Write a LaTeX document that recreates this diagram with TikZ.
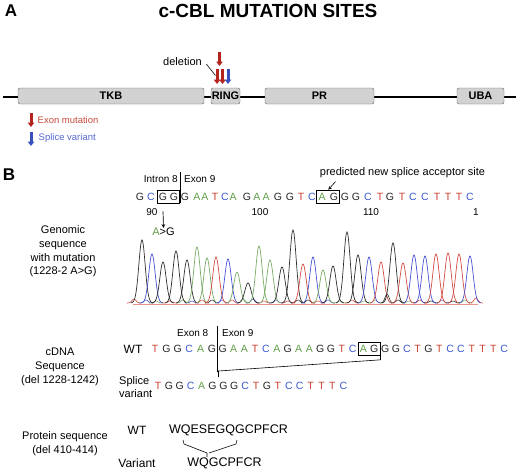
\documentclass[tikz,border=0pt]{standalone}
\usepackage{fontspec}
\setmainfont{Liberation Sans}
\usepackage{xcolor}
\usepackage{tikz}
\usetikzlibrary{arrows.meta, fit, positioning, calc}

\definecolor{colA}{RGB}{98,158,72}
\definecolor{colC}{RGB}{58,88,205}
\definecolor{colG}{RGB}{35,35,35}
\definecolor{colT}{RGB}{205,62,45}
\definecolor{trA}{RGB}{120,170,100}
\definecolor{trC}{RGB}{70,80,210}
\definecolor{trG}{RGB}{45,45,45}
\definecolor{trT}{RGB}{210,75,65}
\definecolor{domfill}{RGB}{210,210,210}
\definecolor{domline}{RGB}{100,100,100}
\definecolor{mutred}{RGB}{180,35,30}
\definecolor{mutblue}{RGB}{55,80,190}
\definecolor{legred}{RGB}{200,75,60}
\definecolor{legblue}{RGB}{85,105,210}

\begin{document}
\begin{tikzpicture}[x=1pt, y=-1pt, >=stealth,
    dom/.style={draw=domline, fill=domfill, rounded corners=2pt, minimum height=16pt,
        inner sep=0pt, font=\bfseries\fontsize{11}{13}\selectfont},
    mutarr/.style={line width=3pt, -{Triangle[width=6.5pt, length=4.5pt]}},
    seqbase/.style={inner sep=0pt, font=\fontsize{10.5}{12}\selectfont},
    seqbox/.style={draw, line width=0.8pt, inner xsep=1.5pt, inner ysep=2.5pt},
    lbl/.style={font=\fontsize{11}{13.7}\selectfont, align=center},
    tiny/.style={inner sep=0pt, font=\fontsize{10}{12}\selectfont},
    panel/.style={font=\bfseries\fontsize{17}{20}\selectfont}]
    \useasboundingbox (0,0) rectangle (520,471);

    % A: domaines de c-CBL
    \node[panel] (pa) at (11,11) {A};
    \node[font=\bfseries\fontsize{19}{22}\selectfont] (title) at (268,11) {c-CBL MUTATION SITES};

    \coordinate (bbl) at (3,97);
    \coordinate (bbr) at (516,97);
    \draw[line width=1.3pt] (bbl) -- (bbr);
    \node[dom, minimum width=186pt] (tkb) at (111,96) {TKB};
    \node[dom, minimum width=29pt] (ring) at (225.5,96) {RING};
    \node[dom, minimum width=109pt] (pr) at (319.5,96) {PR};
    \node[dom, minimum width=47pt] (uba) at (480.5,96) {UBA};

    % les mutations
    \draw[mutarr, mutred] (219.5,52) -- (219.5,66);
    \draw[mutarr, mutred] (217,69) -- (217,84);
    \draw[mutarr, mutred] (222.5,69) -- (222.5,84);
    \draw[mutarr, mutblue] (228,69) -- (228,84);
    \node[lbl] (del) at (182.5,62) {deletion};
    \draw[line width=0.6pt] ([shift={(1,2)}]del.east) -- (215.5,75.5);

    % legende
    \draw[mutarr, mutred] (31,113) -- (31,127);
    \node[anchor=west, inner sep=0pt, text=legred, font=\fontsize{9.5}{11}\selectfont] (lgex) at (37.5,120) {Exon mutation};
    \draw[mutarr, mutblue] (31,132) -- (31,146);
    \node[anchor=west, inner sep=0pt, text=legblue, font=\fontsize{9.5}{11}\selectfont] (lgsp) at (38.5,138) {Splice variant};

    % B: sequence genomique
    \node[panel] (pb) at (9,175) {B};
    \node[tiny, anchor=east] (in8) at (178,179) {Intron 8};
    \node[tiny, anchor=west] (ex9) at (184,179) {Exon 9};
    \draw[line width=0.6pt] (180,172) -- (180,203);
    \foreach \b/\px [count=\i] in {G/140, C/151, G/163, G/174, G/185, A/197, A/205, T/215,
        C/225, A/233, G/247, A/257, A/266, G/278, G/290, T/301, C/312, A/322, G/334,
        G/345, G/356, C/368, T/380, G/390, T/402, C/413, C/425, T/437, T/448, T/459, C/470}
        \node[seqbase, text=col\b] (g\i) at (\px,196.5) {\b};
    \node[seqbox, fit=(g3)(g4)] (gbox1) {};
    \node[seqbox, fit=(g18)(g19)] (gbox2) {};
    \node[lbl] (site) at (402.5,173) {predicted new splice acceptor site};
    \draw[->, line width=0.6pt] ([xshift=-67pt]site.south) -- (gbox2.north);

    \node[tiny] (n90) at (152,212) {90};
    \node[tiny] (n100) at (260,212) {100};
    \node[tiny] (n110) at (371,212) {110};
    \node[tiny] (n1) at (476,212) {1};
    \node[seqbase, font=\fontsize{11}{13}\selectfont] (ag) at (163.5,232) {\textcolor{colA}{A}>G};
    \draw[->, line width=0.7pt] ([yshift=-11pt]g3.south) -- (ag.north);

    \node[lbl] (gen) at (63,251.5) {Genomic\\sequence\\with mutation\\(1228-2 A>G)};

    % chromatogramme
    \draw[trT!60, line width=0.7pt] (133,304.5) -- (478,304.5);
    \foreach \px/\py/\pc in {134/299/trT, 146/300/trC, 156/301/trA, 170/301/trT, 183/300/trA,
        192/301/trC, 202/300/trT, 212/300/trG, 222/300/trC, 232/300/trT, 243/299/trA,
        253/299/trC, 264/301/trT, 276/300/trC, 288/301/trT, 298/300/trG, 308/300/trG,
        318/301/trT, 328/300/trC, 340/301/trA, 352/300/trT, 364/301/trA, 375/300/trA,
        387/294/trG, 398/300/trG, 409/301/trA, 420/300/trT, 431/301/trG, 442/300/trC,
        453/301/trG, 465/300/trA, 476/298/trT}
        \draw[color=\pc, line width=0.6pt] plot[domain=\px-7:\px+7, samples=15, smooth]
            (\x,{303-(303-\py)*exp(-(\x-\px)*(\x-\px)/8)});
    \foreach \px/\py/\pc in {142/240/trG, 152/254/trC, 163/262/trG, 176/251/trG, 187/260/trG,
        197/247/trA, 207/258/trA, 216/257/trT, 228/259/trC, 237/272/trA, 248/283/trG,
        259/246/trA, 270/260/trA, 282/267/trG, 293/230/trG, 303/264/trT, 313/257/trC,
        323/270/trA, 333/266/trG, 347/232/trG, 358/255/trG, 369/257/trC, 381/262/trT,
        393/243/trG, 403/263/trT, 414/255/trC, 425/256/trC, 436/254/trT, 448/253/trT,
        459/254/trT, 470/256/trC}
        \draw[color=\pc, line width=0.7pt] plot[domain=\px-11:\px+11, samples=35, smooth]
            (\x,{303-(303-\py)*exp(-(\x-\px)*(\x-\px)/20)});

    % sequence cDNA
    \node[lbl] (cdna) at (60,367) {cDNA\\Sequence\\(del 1228-1242)};
    \node[lbl, font=\fontsize{12}{14}\selectfont] (wtc) at (133,349) {WT};
    \node[tiny, anchor=east] (ex8c) at (208.5,333) {Exon 8};
    \node[tiny, anchor=west] (ex9c) at (222,333) {Exon 9};
    \foreach \b [count=\i from 0] in {T,G,G,C,A,G}
        \node[seqbase, text=col\b] (w\i) at (155+11.4*\i,349) {\b};
    \foreach \b [count=\i from 6] in {G,A,A,T,C,A,G,A,A,G,G,T,C,A,G,G,G,C,T,G,T,C,C,T,T,T,C}
        \node[seqbase, text=col\b] (w\i) at (222.7+10.83*\i-64.98,349) {\b};
    \node[seqbox, fit=(w19)(w20)] (wbox) {};
    \draw[line width=0.6pt] (217,326) -- (217,372);

    \node[lbl, align=left, anchor=west, inner sep=0pt] (splv) at (119,387) {Splice\\variant};
    \foreach \b [count=\i from 0] in {T,G,G,C,A,G,G,G,C,T,G,T,C,C,T,T,T,C}
        \node[seqbase, text=col\b] (s\i) at (158+10.9*\i,386) {\b};
    \coordinate (cut) at (218.5,377);
    \draw[line width=0.6pt] (wbox.south east) -- ++(0,4) -- (cut |- 0,371) -- (cut);

    % proteine
    \node[lbl] (prot) at (65,444) {Protein sequence\\(del 410-414)};
    \node[lbl, font=\fontsize{12}{14}\selectfont] (wtp) at (137,430) {WT};
    \node[lbl, font=\fontsize{12}{14}\selectfont] (varp) at (137,463) {Variant};
    \node[inner sep=0pt, font=\fontsize{12.5}{14}\selectfont] (pwt) at (228.5,430) {WQESEGQGCPFCR};
    \node[inner sep=0pt, font=\fontsize{12.5}{14}\selectfont] (pvar) at (224.5,463) {WQGCPFCR};
    \draw[line width=0.6pt] (183,440) -- (184,444) -- (207,453) -- (207,457);
    \draw[line width=0.6pt] (237,440) -- (236,444) -- (209,453);
\end{tikzpicture}
\end{document}
